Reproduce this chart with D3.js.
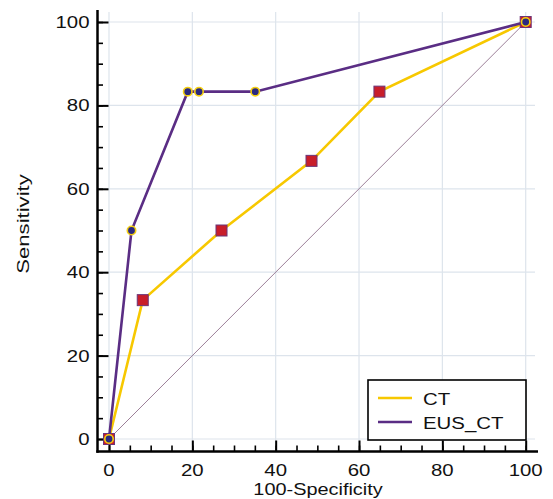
<!DOCTYPE html>
<html><head><meta charset="utf-8">
<script src="https://cdn.jsdelivr.net/npm/d3@7"></script>
<style>body{margin:0;background:#fff}svg{display:block}text{font-family:"Liberation Sans",Arial,sans-serif;fill:#111}</style>
</head><body><svg id="c" width="553" height="499"></svg>
<script>
// Data (100-Specificity, Sensitivity)
const ctX = [0, 8.1, 27.0, 48.6, 64.9, 100];
const ctY = [0, 33.3, 50.0, 66.7, 83.3, 100];
const eusX = [0, 5.4, 18.9, 21.6, 35.1, 100];
const eusY = [0, 50.0, 83.3, 83.3, 83.3, 100];
const seriesNames = ["CT", "EUS_CT"];
const majorTicks = [0, 20, 40, 60, 80, 100];
const minorTicks = d3.range(0, 101, 5);
const xTitle = "100-Specificity", yTitle = "Sensitivity";

const svg = d3.select("#c");
const x = d3.scaleLinear().domain([0, 100]).range([109, 525.7]);
const y = d3.scaleLinear().domain([0, 100]).range([439, 22]);
const axX = 97.5, axY = 451.5;
const SX = 1.2;

// grid
svg.append("g").selectAll("line.v").data(majorTicks).join("line")
  .attr("x1", d => x(d)).attr("x2", d => x(d)).attr("y1", 12).attr("y2", 445)
  .attr("stroke", "#dde4ec").attr("stroke-width", 1.2);
svg.append("g").selectAll("line.h").data(majorTicks).join("line")
  .attr("y1", d => y(d)).attr("y2", d => y(d)).attr("x1", 103).attr("x2", 535)
  .attr("stroke", "#dde4ec").attr("stroke-width", 1.2);

// ticks via d3 axes
const yMinor = d3.axisLeft(y).tickValues(minorTicks).tickSize(-5.5).tickFormat("");
const yMajor = d3.axisLeft(y).tickValues(majorTicks).tickSize(-11).tickFormat("");
const xMinor = d3.axisBottom(x).tickValues(minorTicks).tickSize(-6).tickFormat("");
const xMajor = d3.axisBottom(x).tickValues(majorTicks).tickSize(-11).tickFormat("");
[[yMinor, `translate(${axX},0)`, 1.6], [yMajor, `translate(${axX},0)`, 2],
 [xMinor, `translate(0,${axY})`, 1.6], [xMajor, `translate(0,${axY})`, 2]].forEach(([a, t, w]) => {
  const g = svg.append("g").attr("transform", t).call(a);
  g.select(".domain").remove();
  g.selectAll("line").attr("stroke", "#000").attr("stroke-width", w);
});
// axis lines
svg.append("line").attr("x1", axX).attr("x2", axX).attr("y1", 10).attr("y2", axY + 1.2)
  .attr("stroke", "#000").attr("stroke-width", 2.5);
svg.append("line").attr("x1", axX - 1.2).attr("x2", 538).attr("y1", axY).attr("y2", axY)
  .attr("stroke", "#000").attr("stroke-width", 2.5);

// tick labels
svg.append("g").selectAll("text").data(majorTicks).join("text")
  .attr("transform", d => `translate(89.5,${y(d) + 6}) scale(${SX},1)`)
  .attr("text-anchor", "end").attr("font-size", 17).text(d => d);
svg.append("g").selectAll("text").data(majorTicks).join("text")
  .attr("transform", d => `translate(${x(d)},${476}) scale(${SX},1)`)
  .attr("text-anchor", "middle").attr("font-size", 17).text(d => d);

// titles
svg.append("text").attr("transform", `translate(318,495) scale(1.17,1)`)
  .attr("text-anchor", "middle").attr("font-size", 17).text(xTitle);
svg.append("text").attr("transform", `translate(29,224) rotate(-90) scale(1.3,1)`)
  .attr("text-anchor", "middle").attr("font-size", 17).text(yTitle);

// diagonal
svg.append("line").attr("x1", x(0)).attr("y1", y(0)).attr("x2", x(100)).attr("y2", y(100))
  .attr("stroke", "#9c7f98").attr("stroke-width", 1);

const line = d3.line().x(d => x(d[0])).y(d => y(d[1]));
const ct = ctX.map((v, i) => [v, ctY[i]]);
const eus = eusX.map((v, i) => [v, eusY[i]]);
const ctColor = "#f7c800", eusColor = "#5a2d84";

svg.append("path").datum(ct).attr("d", line).attr("fill", "none")
  .attr("stroke", ctColor).attr("stroke-width", 2.6);
svg.append("g").selectAll("rect").data(ct).join("rect")
  .attr("x", d => x(d[0]) - 5.5).attr("y", d => y(d[1]) - 5.5).attr("width", 11).attr("height", 11)
  .attr("fill", "#c81e2a").attr("stroke", "#6b3478").attr("stroke-width", 1);

svg.append("path").datum(eus).attr("d", line).attr("fill", "none")
  .attr("stroke", eusColor).attr("stroke-width", 2.6);
svg.append("g").selectAll("circle").data(eus).join("circle")
  .attr("cx", d => x(d[0])).attr("cy", d => y(d[1])).attr("r", 4.2)
  .attr("fill", "#2c2a80").attr("stroke", "#f5cf10").attr("stroke-width", 1.6);

// legend
svg.append("rect").attr("x", 368).attr("y", 380).attr("width", 158).attr("height", 60)
  .attr("fill", "#fff").attr("stroke", "#000").attr("stroke-width", 1.6);
const lg = svg.append("g").selectAll("g").data(seriesNames).join("g")
  .attr("transform", (d, i) => `translate(0,${398 + i * 24})`);
lg.append("line").attr("x1", 378).attr("x2", 412).attr("y1", 0).attr("y2", 0)
  .attr("stroke", (d, i) => i ? eusColor : ctColor).attr("stroke-width", 2.6);
lg.append("text").attr("transform", `translate(423,7) scale(${SX},1)`)
  .attr("font-size", 17).text(d => d);
</script></body></html>
